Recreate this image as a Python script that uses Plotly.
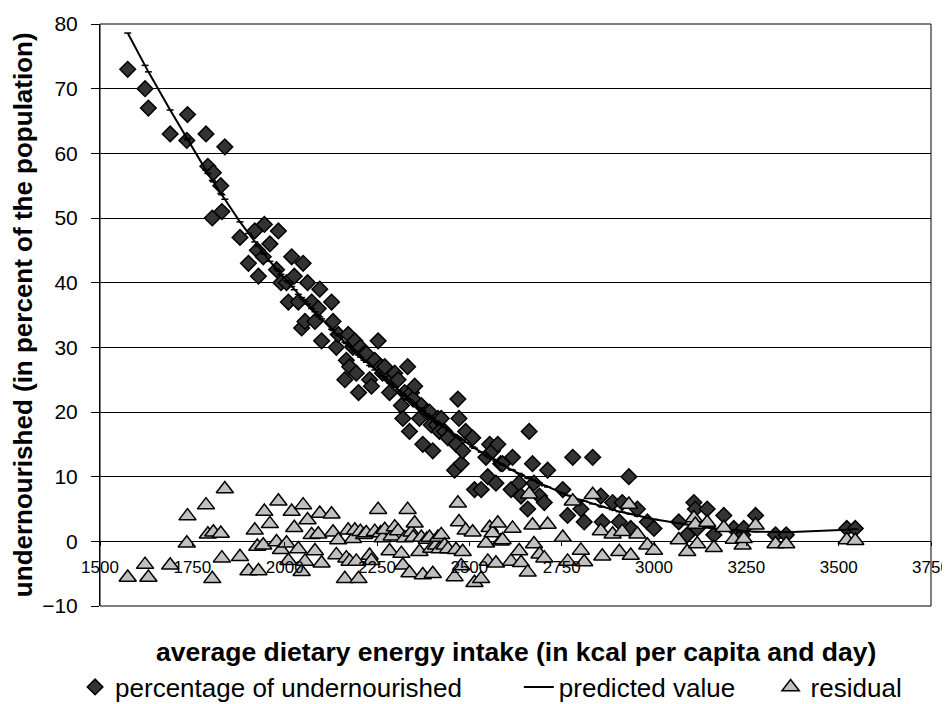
import plotly.graph_objects as go

# average dietary energy intake (kcal per capita and day), one value per country
intake = [
    1575, 1622, 1631, 1690, 1735, 1737, 1787, 1792, 1804, 1807,
    1827, 1830, 1838, 1879, 1902, 1919, 1926, 1929, 1942, 1945,
    1960, 1978, 1983, 1990, 2005, 2010, 2019, 2026, 2037, 2046,
    2050, 2055, 2062, 2073, 2082, 2091, 2095, 2100, 2127, 2131,
    2140, 2145, 2163, 2167, 2172, 2176, 2185, 2190, 2194, 2200,
    2205, 2215, 2221, 2230, 2235, 2244, 2253, 2260, 2265, 2271,
    2284, 2290, 2298, 2307, 2316, 2320, 2325, 2333, 2338, 2343,
    2348, 2352, 2365, 2370, 2374, 2385, 2392, 2397, 2401, 2410,
    2415, 2419, 2424, 2433, 2442, 2460, 2464, 2469, 2472, 2478,
    2482, 2490, 2509, 2514, 2532, 2545, 2550, 2555, 2563, 2572,
    2577, 2585, 2590, 2613, 2617, 2635, 2640, 2658, 2662, 2671,
    2675, 2690, 2703, 2712, 2753, 2766, 2780, 2802, 2811, 2834,
    2856, 2860, 2888, 2906, 2914, 2932, 2937, 2955, 2982, 3000,
    3067, 3090, 3108, 3112, 3117, 3144, 3162, 3189, 3216, 3240,
    3243, 3275, 3329, 3358, 3522, 3545,
]

# percentage of undernourished
undernourished = [
    73, 70, 67, 63, 62, 66, 63, 58, 50, 57,
    55, 51, 61, 47, 43, 48, 45, 41, 44, 49,
    46, 42, 48, 40, 40, 37, 44, 41, 37, 33,
    43, 34, 40, 37, 34, 36, 39, 31, 37, 34,
    30, 32, 25, 28, 32, 27, 30, 31, 26, 23,
    30, 29, 29, 25, 24, 28, 31, 27, 26, 27,
    23, 25, 26, 25, 21, 19, 23, 27, 17, 23,
    22, 24, 19, 21, 15, 20, 20, 18, 14, 18,
    19, 17, 19, 17, 16, 11, 15, 22, 19, 12,
    14, 17, 16, 8, 8, 13, 10, 15, 14, 9,
    15, 12, 12, 8, 13, 9, 7, 5, 17, 12,
    9, 7, 6, 11, 8, 4, 13, 5, 3, 13,
    7, 3, 6, 3, 6, 10, 2, 5, 3, 2,
    3, 1, 6, 5, 2, 5, 1, 4, 2, 1,
    2, 4, 1, 1, 2, 2,
]

# predicted value
predicted = [
    78.6, 73.6, 72.6, 66.7, 62.3, 62.1, 57.4, 56.9, 55.8, 55.6,
    53.8, 53.6, 52.9, 49.4, 47.6, 46.3, 45.8, 45.6, 44.6, 44.4,
    43.3, 42.1, 41.8, 41.3, 40.3, 40.0, 39.4, 38.9, 38.2, 37.7,
    37.4, 37.1, 36.7, 36.0, 35.5, 34.9, 34.7, 34.4, 32.8, 32.6,
    32.1, 31.8, 30.8, 30.6, 30.3, 30.1, 29.6, 29.3, 29.1, 28.8,
    28.5, 28.0, 27.7, 27.2, 27.0, 26.5, 26.1, 25.7, 25.5, 25.2,
    24.5, 24.2, 23.8, 23.4, 22.9, 22.7, 22.5, 22.1, 21.9, 21.6,
    21.4, 21.2, 20.6, 20.4, 20.2, 19.7, 19.4, 19.1, 19.0, 18.6,
    18.4, 18.2, 18.0, 17.6, 17.2, 16.5, 16.3, 16.1, 16.0, 15.8,
    15.6, 15.3, 14.6, 14.4, 13.8, 13.3, 13.1, 12.9, 12.7, 12.4,
    12.2, 12.0, 11.8, 11.1, 11.0, 10.5, 10.3, 9.8, 9.7, 9.5,
    9.4, 9.0, 8.6, 8.4, 7.4, 7.1, 6.8, 6.4, 6.2, 5.8,
    5.4, 5.3, 4.9, 4.6, 4.5, 4.3, 4.2, 3.9, 3.6, 3.4,
    2.8, 2.6, 2.4, 2.4, 2.4, 2.1, 2.0, 1.9, 1.7, 1.6,
    1.6, 1.5, 1.4, 1.4, 1.8, 1.9,
]

# residual
residual = [
    -5.6, -3.6, -5.6, -3.7, -0.3, 3.9, 5.6, 1.1, -5.8, 1.4,
    1.2, -2.6, 8.1, -2.4, -4.6, 1.7, -0.8, -4.6, -0.6, 4.6,
    2.7, -0.1, 6.2, -1.3, -0.3, -3.0, 4.6, 2.1, -1.2, -4.7,
    5.6, -3.1, 3.3, 1.0, -1.5, 1.1, 4.3, -3.4, 4.2, 1.4,
    -2.1, 0.2, -5.8, -2.6, 1.7, -3.1, 0.4, 1.7, -3.1, -5.8,
    1.5, 1.0, 1.3, -2.2, -3.0, 1.5, 4.9, 1.3, 0.5, 1.8,
    -1.5, 0.8, 2.2, 1.6, -1.9, -3.7, 0.5, 4.9, -4.9, 1.4,
    0.6, 2.8, -1.6, 0.6, -5.2, 0.3, 0.6, -1.1, -5.0, -0.6,
    0.6, -1.2, 1.0, -0.6, -1.2, -5.5, -1.3, 5.9, 3.0, -3.8,
    -1.6, 1.7, 1.4, -6.4, -5.8, -0.3, -3.1, 2.1, 1.3, -3.4,
    2.8, 0.0, 0.2, -3.1, 2.0, -1.5, -3.3, -4.8, 7.3, 2.5,
    -0.4, -2.0, -2.6, 2.6, 0.6, -3.1, 6.2, -1.4, -3.2, 7.2,
    1.6, -2.3, 1.1, -1.6, 1.5, 5.7, -2.2, 1.1, -0.6, -1.4,
    0.2, -1.6, 3.6, 2.6, -0.4, 2.9, -1.0, 2.1, 0.3, -0.6,
    0.4, 2.5, -0.4, -0.4, 0.2, 0.1,
]

FONT = "Liberation Sans, Arial, sans-serif"

fig = go.Figure()

fig.add_trace(go.Scatter(
    x=intake, y=undernourished, mode="markers",
    name="percentage of undernourished",
    marker=dict(symbol="diamond", size=12, color="#333333",
                line=dict(color="black", width=1.5)),
    legend="legend",
))

fig.add_trace(go.Scatter(
    x=intake, y=predicted, mode="lines+markers",
    name="predicted value",
    line=dict(color="black", width=2),
    marker=dict(symbol="line-ew", size=5, color="black",
                line=dict(color="black", width=1.5)),
    legend="legend2",
))

fig.add_trace(go.Scatter(
    x=intake, y=residual, mode="markers",
    name="residual",
    marker=dict(symbol="triangle-up", size=15, color="#c0c0c0",
                line=dict(color="black", width=1.5)),
    legend="legend3",
))

# legends sit in container coordinates so they do not push the plot margins
legend_style = dict(
    orientation="h", yref="container", y=0.0244, yanchor="middle",
    xanchor="left",
    font=dict(family=FONT, size=26, color="black"),
    bgcolor="rgba(0,0,0,0)", borderwidth=0,
)

# the page body adds an 8px margin, so the figure is 8px smaller than the window
fig.update_layout(
    width=942, height=696,
    margin=dict(l=92, r=19, t=16, b=98),
    paper_bgcolor="white", plot_bgcolor="white",
    font=dict(family=FONT, color="black"),
    showlegend=True,
    legend=dict(legend_style, x=-0.030),
    legend2=dict(legend_style, x=0.504),
    legend3=dict(legend_style, x=0.807),
    xaxis=dict(
        range=[1500, 3750], tick0=1500, dtick=250,
        anchor="free", position=10 / 90, automargin=False,
        showgrid=False, zeroline=False, showline=False,
        ticks="outside", ticklen=4, tickcolor="black",
        ticklabelstandoff=6,
        tickfont=dict(family=FONT, size=17, color="black"),
    ),
    yaxis=dict(
        range=[-10, 80], tick0=-10, dtick=10, automargin=False,
        showgrid=True, gridcolor="black", gridwidth=1,
        zeroline=False, showline=True, linecolor="black", linewidth=1,
        ticks="outside", ticklen=8, tickcolor="black",
        ticklabelstandoff=9,
        tickfont=dict(family=FONT, size=21, color="black"),
    ),
    shapes=[dict(type="rect", xref="paper", yref="paper",
                 x0=0, x1=1, y0=0, y1=1,
                 line=dict(color="black", width=1))],
    annotations=[
        dict(text="<b>average dietary energy intake (in kcal per capita and day)</b>",
             xref="paper", yref="paper", x=0.5, y=-0.079,
             xanchor="center", yanchor="middle", showarrow=False,
             font=dict(family=FONT, size=26.5, color="black")),
        dict(text="<b>undernourished (in percent of the population)</b>",
             xref="paper", yref="paper", x=-0.0925, y=0.5,
             xanchor="center", yanchor="middle", showarrow=False,
             textangle=-90,
             font=dict(family=FONT, size=26, color="black")),
    ],
)

fig.write_html("out.html")
